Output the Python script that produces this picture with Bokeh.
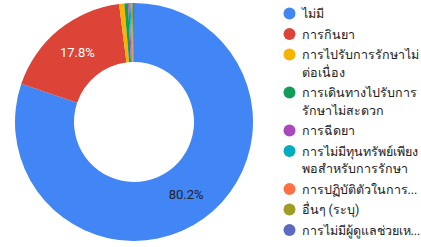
import numpy as np
from bokeh.plotting import figure
from bokeh.models import Range1d, ColumnDataSource
from bokeh.core.properties import value
from bokeh.embed import file_html
from bokeh.resources import INLINE

# ---- data ----
categories = [
    "ไม่มี",
    "การกินยา",
    "การไปรับการรักษาไม่\nต่อเนื่อง",
    "การเดินทางไปรับการ\nรักษาไม่สะดวก",
    "การฉีดยา",
    "การไม่มีทุนทรัพย์เพียง\nพอสำหรับการรักษา",
    "การปฏิบัติตัวในการ...",
    "อื่นๆ (ระบุ)",
    "การไม่มีผู้ดูแลช่วยเห...",
]
percent = [80.2, 17.8, 0.7, 0.5, 0.2, 0.15, 0.15, 0.15, 0.15]
colors = ["#4285F4", "#DB4437", "#F4B400", "#0F9D58", "#AB47BC",
          "#00ACC1", "#FF7043", "#9E9D24", "#5C6BC0"]

# ---- layout ----
W, H = 421, 247
FONT = "Roboto"
p = figure(width=W, height=H, output_backend="svg", toolbar_location=None,
           x_range=Range1d(0, W), y_range=Range1d(0, H), min_border=0)
p.axis.visible = False
p.grid.visible = False
p.outline_line_color = None
p.background_fill_color = "white"

def px(x):
    return x

def py(y):
    return H - y

cx, cy = px(133.5), py(121.5)
r_out, r_in = 119, 60

vals = np.array(percent, dtype=float)
frac = vals / vals.sum()
cum1 = np.cumsum(frac)
cum0 = cum1 - frac
start = np.pi / 2 - 2 * np.pi * cum0
end = np.pi / 2 - 2 * np.pi * cum1

src = ColumnDataSource(dict(start=start, end=end, color=colors))
p.annular_wedge(x=cx, y=cy, inner_radius=r_in, outer_radius=r_out,
                inner_radius_units="screen", outer_radius_units="screen",
                start_angle="start", end_angle="end", direction="clock",
                fill_color="color", line_color=None, source=src)

# slice labels
mid = np.pi / 2 - 2 * np.pi * (cum0 + frac / 2)
rm = (r_out + r_in) / 2
lx, ly, lt, lc = [], [], [], []
for i, f in enumerate(frac):
    if f > 0.05:
        lx.append(cx + rm * np.cos(mid[i]))
        ly.append(cy + rm * np.sin(mid[i]))
        lt.append(f"{percent[i]:.1f}%")
        lc.append("#ffffff" if i == 1 else "#222222")
p.text(x=lx, y=ly, text=lt, text_color=lc, text_font=value(FONT),
       text_font_size="13px", text_align="center", text_baseline="middle")

# legend
mx, tx = px(289), px(301)
y = 13.0
gap, lh = 20.5, 17.5
mxs, mys, txs, tys, tts = [], [], [], [], []
for i, lab in enumerate(categories):
    lines = lab.split("\n")
    mxs.append(mx)
    mys.append(py(y))
    for j, ln in enumerate(lines):
        txs.append(tx)
        tys.append(py(y + j * lh))
        tts.append(ln)
    y += (len(lines) - 1) * lh + gap
p.scatter(x=mxs, y=mys, size=12, marker="circle", fill_color=colors, line_color=None)
p.text(x=txs, y=tys, text=tts, text_color="#222222", text_font=value(FONT),
       text_font_size="12.5px", text_align="left", text_baseline="middle")

open("out.html", "w").write(file_html(p, INLINE))
